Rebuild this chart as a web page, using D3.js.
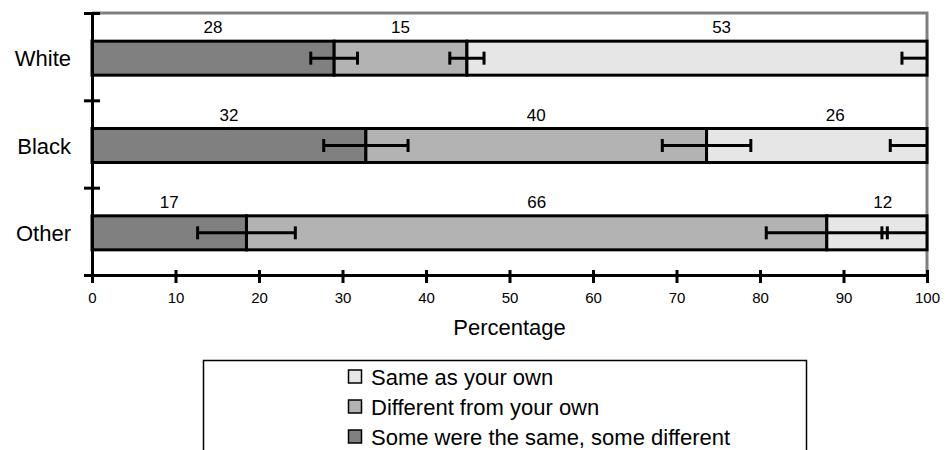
<!DOCTYPE html>
<html><head><meta charset="utf-8">
<script src="https://cdn.jsdelivr.net/npm/d3@7"></script>
<style>body{margin:0;background:#fff} svg{display:block;font-family:"Liberation Sans",Arial,Helvetica,sans-serif}</style>
</head><body><svg id="c" width="950" height="450"></svg>
<script>
// ---- data ----
const categories = ["White", "Black", "Other"];
const seriesNames = ["Some were the same, some different", "Different from your own", "Same as your own"];
const seriesColors = ["#808080", "#b3b3b3", "#e6e6e6"];
// bar shares (normalised to 100)
const shareSome = [29.0, 32.8, 18.5];
const shareDifferent = [15.9, 40.8, 69.5];
const shareSame = [55.1, 26.4, 12.0];
// reported values (labels above bars)
const labelSome = [28, 32, 17];
const labelDifferent = [15, 40, 66];
const labelSame = [53, 26, 12];
// error half-widths (percentage points) at each segment end
const errSome = [2.8, 5.05, 5.85];
const errDifferent = [2.05, 5.3, 7.25];
const errSame = [3.0, 4.4, 5.4];
// anchor (in percent) of the label for the last segment
const labelAnchorSame = [75.4, 89.0, 94.7];
const xTickValues = [0, 10, 20, 30, 40, 50, 60, 70, 80, 90, 100];
const xTitle = "Percentage";

// ---- layout ----
const svg = d3.select("#c");
const X0 = 92, X1 = 927, Y0 = 13, Y1 = 275;
const x = d3.scaleLinear().domain([0, 100]).range([X0, X1]);
const yb = d3.scaleBand().domain(categories).range([Y0, Y1]);
const yl = d3.scaleLinear().domain([0, categories.length]).range([Y0, Y1]);
const barH = 34;
const barTop = c => yb(c) + (yb.step() - barH) / 2 + 1.5;
const barMid = c => barTop(c) + barH / 2;

const shares = [shareSome, shareDifferent, shareSame];
const labels = [labelSome, labelDifferent, labelSame];
const errs = [errSome, errDifferent, errSame];

// gray frame (top / right)
svg.append("path")
  .attr("d", `M${x(0)},${Y0}H${x(100)}V${Y1}`)
  .attr("fill", "none").attr("stroke", "#808080").attr("stroke-width", 3);

// segments
const segs = [];
categories.forEach((c, i) => {
  let start = 0;
  shares.forEach((s, k) => {
    segs.push({c, i, k, start, end: start + s[i], label: labels[k][i], err: errs[k][i]});
    start += s[i];
  });
});

svg.append("g").selectAll("rect").data(segs).join("rect")
  .attr("x", d => x(d.start)).attr("y", d => barTop(d.c))
  .attr("width", d => x(d.end) - x(d.start)).attr("height", barH)
  .attr("fill", d => seriesColors[d.k]).attr("stroke", "#000").attr("stroke-width", 3);

// error bars
const eg = svg.append("g").attr("stroke", "#000").attr("stroke-width", 3);
segs.forEach(d => {
  const lo = d.end - d.err, hi = Math.min(100, d.end + d.err);
  const cy = barMid(d.c);
  eg.append("line").attr("x1", x(lo)).attr("x2", x(hi)).attr("y1", cy).attr("y2", cy);
  eg.append("line").attr("x1", x(lo)).attr("x2", x(lo)).attr("y1", cy - 6.5).attr("y2", cy + 6.5);
  if (d.end + d.err < 100)
    eg.append("line").attr("x1", x(hi)).attr("x2", x(hi)).attr("y1", cy - 6.5).attr("y2", cy + 6.5);
});

// value labels
svg.append("g").selectAll("text").data(segs).join("text")
  .attr("x", d => d.k === 2 ? x(labelAnchorSame[d.i]) : x((d.start + d.end) / 2))
  .attr("y", d => barTop(d.c) - 8)
  .attr("text-anchor", "middle").attr("font-size", 17).attr("fill", "#000")
  .text(d => d.label);

// category labels
svg.append("g").selectAll("text").data(categories).join("text")
  .attr("x", 71).attr("y", c => barMid(c) + 8)
  .attr("text-anchor", "end").attr("font-size", 22).attr("fill", "#000")
  .text(c => c);

// x axis
const xa = svg.append("g").attr("transform", `translate(0,${Y1})`)
  .call(d3.axisBottom(x).tickValues(xTickValues).tickSize(8).tickSizeOuter(0).tickPadding(9.5));
xa.select(".domain").attr("stroke-width", 3).attr("stroke", "#000");
xa.selectAll(".tick line").attr("y1", -5).attr("stroke-width", 3);
xa.selectAll(".tick text").attr("font-size", 15).attr("font-family", "Liberation Sans, Arial, sans-serif");

// y axis
const ya = svg.append("g").attr("transform", `translate(${X0},0)`)
  .call(d3.axisLeft(yl).tickValues(d3.range(categories.length + 1)).tickSize(8).tickSizeOuter(0).tickFormat(""));
ya.select(".domain").attr("stroke-width", 3).attr("stroke", "#000");
ya.selectAll(".tick line").attr("x1", 8).attr("x2", -8).attr("stroke-width", 3);

// x title
svg.append("text").attr("x", (X0 + X1) / 2).attr("y", 335)
  .attr("text-anchor", "middle").attr("font-size", 22).text(xTitle);

// legend
const lg = svg.append("g");
lg.append("rect").attr("x", 203.5).attr("y", 360.5).attr("width", 603).attr("height", 120)
  .attr("fill", "#fff").attr("stroke", "#000").attr("stroke-width", 1.5);
const legendOrder = [2, 1, 0];
legendOrder.forEach((k, r) => {
  const cy = 377 + r * 30;
  lg.append("rect").attr("x", 348.5).attr("y", cy - 7).attr("width", 13).attr("height", 13)
    .attr("fill", seriesColors[k]).attr("stroke", "#000").attr("stroke-width", 1.5);
  lg.append("text").attr("x", 371).attr("y", cy + 8).attr("font-size", 22).text(seriesNames[k]);
});
</script></body></html>
